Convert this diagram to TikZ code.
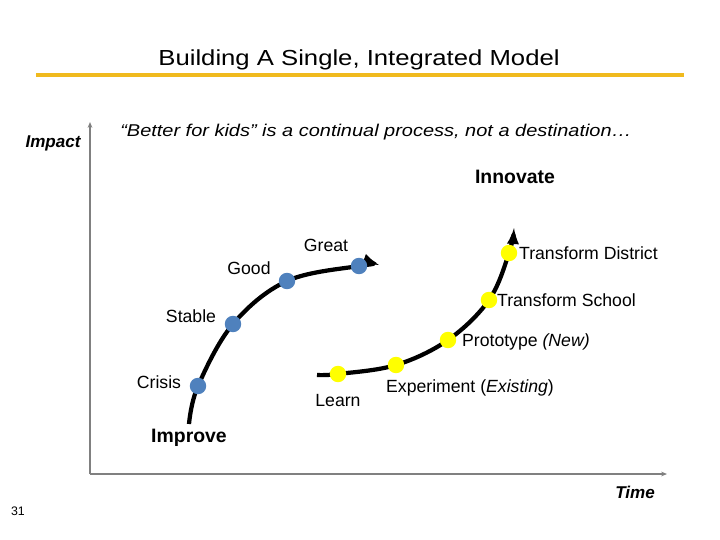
\documentclass[tikz,border=0pt]{standalone}
\usepackage{fontspec}
\setmainfont{Liberation Sans}
\usetikzlibrary{backgrounds,arrows.meta}
\definecolor{bargold}{RGB}{240,186,30}
\definecolor{axisgray}{RGB}{128,128,128}
\definecolor{dotblue}{RGB}{79,129,189}
\definecolor{dotyellow}{RGB}{255,255,0}
\tikzset{
	bluedot/.style={circle,fill=dotblue,inner sep=0pt,minimum size=14pt},
	yellowdot/.style={circle,fill=dotyellow,inner sep=0pt,minimum size=14pt},
	curve/.style={line width=3.6pt,-latex},
	lbl/.style={font=\fontsize{15}{17}\selectfont},
	axis/.style={draw=axisgray,line width=2.2pt,-{Stealth[length=5pt,width=4pt]}}
}
\begin{document}
\begin{tikzpicture}[x=0.85pt,y=-0.85pt]
	\useasboundingbox (0,0) rectangle (720,540);
	\node[font=\fontsize{18.5}{20}\selectfont] (title) at (359,59.5) {\scalebox{1.18}[1]{Building A Single, Integrated Model}};
	\draw[bargold,line width=3.5pt] (36,75)--(684,75);
	\node[font=\fontsize{14.5}{16}\selectfont\bfseries\itshape] (impact) at (53,143) {Impact};
	\node[font=\fontsize{14.5}{16}\selectfont\itshape] (quote) at (376,132) {\scalebox{1.17}[1]{“Better for kids” is a continual process, not a destination…}};
	% axes
	\coordinate (origin) at (90,474);
	\coordinate (ytop) at (90,122);
	\coordinate (xend) at (667,474);
	\draw[axis] (origin)--(ytop);
	\draw[axis] (origin)--(xend);
	\node[font=\fontsize{14.5}{16}\selectfont\bfseries\itshape] (time) at (635,492) {Time};
	\node[font=\fontsize{10.5}{12}\selectfont] (page) at (18,511) {31};
	\node[font=\fontsize{16.5}{18}\selectfont\bfseries] (innovate) at (515,177) {Innovate};
	\node[font=\fontsize{16.5}{18}\selectfont\bfseries] (improve) at (189,438) {Improve};
	% improve curve
	\coordinate (bstart) at (189,424);
	\node[bluedot] (crisis) at (198,386) {};
	\node[bluedot] (stable) at (233,324) {};
	\node[bluedot] (good) at (287,281) {};
	\node[bluedot] (great) at (359,266) {};
	\coordinate (bend) at (379,265);
	\node[lbl] at (159,382) {Crisis};
	\node[lbl] at (191,316) {Stable};
	\node[lbl] at (249,268) {Good};
	\node[lbl] at (326,245) {Great};
	% innovate curve
	\coordinate (ystart) at (317,375);
	\node[yellowdot] (learn) at (338,374) {};
	\node[yellowdot] (experiment) at (396,365) {};
	\node[yellowdot] (prototype) at (448,340) {};
	\node[yellowdot] (school) at (489,300) {};
	\node[yellowdot] (district) at (509,253) {};
	\coordinate (yend) at (514,228);
	\node[lbl] at (338,401) {Learn};
	\node[lbl,anchor=west] at (382,388) {Experiment (\textit{Existing})};
	\node[lbl,anchor=west] at (458,342) {Prototype \textit{(New)}};
	\node[lbl,anchor=west] at (493,300) {Transform School};
	\node[lbl,anchor=west] at (515,253) {Transform District};
	\begin{scope}[on background layer]
	\draw[curve] plot[smooth,tension=0.6] coordinates {(bstart) (crisis) (stable) (good) (great) (bend)};
	\draw[curve] plot[smooth,tension=0.6] coordinates {(ystart) (learn) (experiment) (prototype) (school) (district) (yend)};
	\end{scope}
\end{tikzpicture}
\end{document}
